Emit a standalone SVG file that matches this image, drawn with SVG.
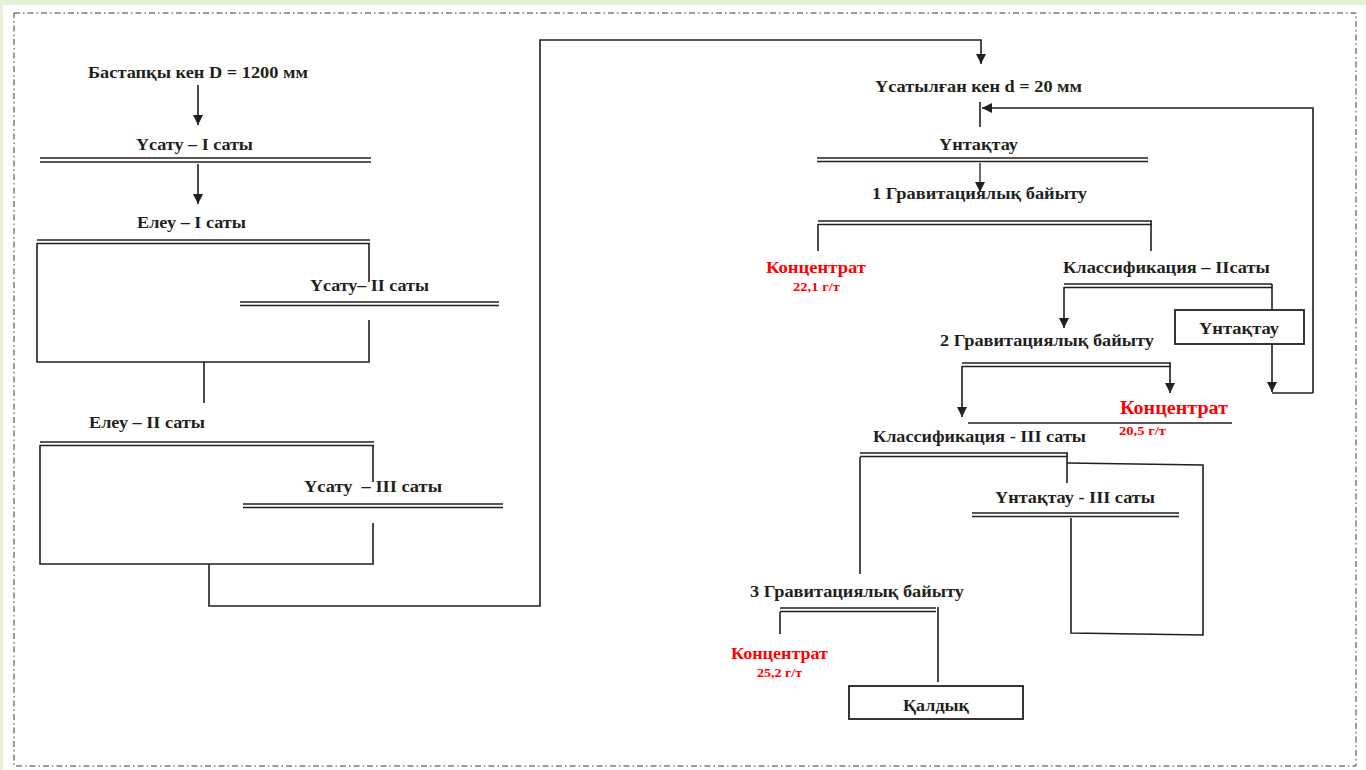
<svg xmlns="http://www.w3.org/2000/svg" width="1366" height="770" viewBox="0 0 1366 770">
<style>
.t{font-family:"Liberation Serif","Times New Roman",serif;font-weight:bold;font-size:17px;fill:#231f20}
.r{font-family:"Liberation Serif","Times New Roman",serif;font-weight:bold;font-size:17px;fill:#ff0000}
.rb{font-family:"Liberation Serif","Times New Roman",serif;font-weight:bold;font-size:19px;fill:#ff0000}
.rs{font-family:"Liberation Serif","Times New Roman",serif;font-weight:bold;font-size:13px;fill:#ff0000}
.l{stroke:#231f20;stroke-width:1.6;fill:none}
.d{stroke:#231f20;stroke-width:1.3;fill:none}
.box{stroke:#231f20;stroke-width:1.8;fill:#fff}
</style>
<defs>
<marker id="ah" viewBox="0 0 10 10" refX="10" refY="5" markerWidth="10" markerHeight="10" markerUnits="userSpaceOnUse" orient="auto">
<path d="M0,0 L10,5 L0,10 Z" fill="#231f20"/>
</marker>
</defs>
<rect width="1366" height="770" fill="#e6f2d8"/>
<rect x="3" y="5" width="1363" height="765" fill="#fff"/>
<rect x="14" y="13" width="1342" height="753" fill="none" stroke="#3a3a3a" stroke-width="1" stroke-dasharray="6,3,1.5,3"/>

<g id="connectors">
<line class="l" x1="198" y1="85" x2="198" y2="125" marker-end="url(#ah)"/>
<line class="l" x1="198" y1="164" x2="198" y2="204" marker-end="url(#ah)"/>
<polyline class="l" points="369,243 369,282"/>
<polyline class="l" points="369,320 369,362 37,362 37,243"/>
<line class="l" x1="204" y1="362" x2="204" y2="403"/>
<polyline class="l" points="373,445 373,482"/>
<polyline class="l" points="373,523 373,564 40,564 40,445"/>
<polyline class="l" points="209,564 209,606 540,606 540,40 981,40 981,64" marker-end="url(#ah)"/>
<line class="l" x1="980" y1="102" x2="980" y2="127"/>
<polyline class="l" points="1313,393 1313,108 982,108" marker-end="url(#ah)"/>
<line class="d" x1="980" y1="163" x2="980" y2="192" stroke-width="1" marker-end="url(#ah)"/>
<line class="l" x1="818" y1="224" x2="818" y2="251"/>
<line class="l" x1="1151" y1="221" x2="1151" y2="251"/>
<polyline class="l" points="1064,287 1064,328" marker-end="url(#ah)"/>
<line class="l" x1="1272" y1="284" x2="1272" y2="310"/>
<polyline class="l" points="1272,344 1272,392" marker-end="url(#ah)"/>
<line class="l" x1="1272" y1="393" x2="1313" y2="393"/>
<polyline class="l" points="962,366 962,417" marker-end="url(#ah)"/>
<polyline class="l" points="1170,363 1170,393" marker-end="url(#ah)"/>
<line class="l" x1="968" y1="423" x2="1232" y2="423"/>
<line class="l" x1="860" y1="457" x2="860" y2="574"/>
<line class="l" x1="1067" y1="453" x2="1067" y2="483"/>
<polyline class="l" points="1067,463 1203,465 1203,635 1071,633 1071,518"/>
<line class="l" x1="780" y1="612" x2="780" y2="634"/>
<line class="l" x1="938" y1="607" x2="938" y2="682"/>
</g>

<g id="n1"><text class="t" x="88" y="78" textLength="220" lengthAdjust="spacingAndGlyphs">Бастапқы кен D = 1200 мм</text></g>
<g id="n2"><text class="t" x="136" y="150" textLength="117" lengthAdjust="spacingAndGlyphs">Үсату – I саты</text>
<line class="d" x1="40" y1="158" x2="371" y2="158"/><line class="d" x1="40" y1="162" x2="371" y2="162"/></g>
<g id="n3"><text class="t" x="137" y="228" textLength="109" lengthAdjust="spacingAndGlyphs">Елеу – I саты</text>
<line class="d" x1="37" y1="240" x2="370" y2="240"/><line class="d" x1="37" y1="243.5" x2="370" y2="243.5"/></g>
<g id="n4"><text class="t" x="310" y="291" textLength="119" lengthAdjust="spacingAndGlyphs">Үсату– II саты</text>
<line class="d" x1="240" y1="302" x2="499" y2="302"/><line class="d" x1="240" y1="305.5" x2="499" y2="305.5"/></g>
<g id="n5"><text class="t" x="89" y="428" textLength="116" lengthAdjust="spacingAndGlyphs">Елеу – II саты</text>
<line class="d" x1="40" y1="442" x2="374" y2="442"/><line class="d" x1="40" y1="445.5" x2="374" y2="445.5"/></g>
<g id="n6"><text class="t" x="304" y="492" textLength="138" lengthAdjust="spacingAndGlyphs" xml:space="preserve">Үсату  – III саты</text>
<line class="d" x1="243" y1="504" x2="503" y2="504"/><line class="d" x1="243" y1="507.5" x2="503" y2="507.5"/></g>
<g id="n7"><text class="t" x="875" y="92" textLength="207" lengthAdjust="spacingAndGlyphs">Үсатылған кен d = 20 мм</text></g>
<g id="n8"><text class="t" x="939" y="150" textLength="79" lengthAdjust="spacingAndGlyphs">Үнтақтау</text>
<line class="d" x1="817" y1="158" x2="1148" y2="158"/><line class="d" x1="817" y1="161.5" x2="1148" y2="161.5"/></g>
<g id="n9"><text class="t" x="872" y="199" textLength="215" lengthAdjust="spacingAndGlyphs">1 Гравитациялық байыту</text>
<line class="d" x1="818" y1="221" x2="1152" y2="221"/><line class="d" x1="818" y1="224.5" x2="1152" y2="224.5"/></g>
<g id="n10"><text class="r" x="766" y="273" textLength="100" lengthAdjust="spacingAndGlyphs">Концентрат</text>
<text class="rs" x="793" y="291" textLength="47" lengthAdjust="spacingAndGlyphs">22,1 г/т</text></g>
<g id="n11"><text class="t" x="1063" y="273" textLength="207" lengthAdjust="spacingAndGlyphs">Классификация – IIсаты</text>
<line class="d" x1="1064" y1="284" x2="1272" y2="284"/><line class="d" x1="1064" y1="287.5" x2="1272" y2="287.5"/></g>
<g id="n12"><rect class="box" x="1175" y="310" width="129" height="34"/>
<text class="t" x="1199" y="334" textLength="80" lengthAdjust="spacingAndGlyphs">Үнтақтау</text></g>
<g id="n13"><text class="t" x="940" y="346" textLength="214" lengthAdjust="spacingAndGlyphs">2 Гравитациялық байыту</text>
<line class="d" x1="962" y1="363" x2="1171" y2="363"/><line class="d" x1="962" y1="366.5" x2="1171" y2="366.5"/></g>
<g id="n14"><text class="rb" x="1120" y="414" textLength="108" lengthAdjust="spacingAndGlyphs">Концентрат</text>
<text class="rs" x="1119" y="435" textLength="47" lengthAdjust="spacingAndGlyphs">20,5 г/т</text></g>
<g id="n15"><text class="t" x="873" y="442" textLength="213" lengthAdjust="spacingAndGlyphs">Классификация - III саты</text>
<line class="d" x1="860" y1="453" x2="1068" y2="453"/><line class="d" x1="860" y1="456.5" x2="1068" y2="456.5"/></g>
<g id="n16"><text class="t" x="995" y="503" textLength="160" lengthAdjust="spacingAndGlyphs">Үнтақтау - III саты</text>
<line class="d" x1="972" y1="513" x2="1179" y2="513"/><line class="d" x1="972" y1="516.5" x2="1179" y2="516.5"/></g>
<g id="n17"><text class="t" x="750" y="597" textLength="214" lengthAdjust="spacingAndGlyphs">3 Гравитациялық байыту</text>
<line class="d" x1="780" y1="608" x2="936" y2="608"/><line class="d" x1="780" y1="611.5" x2="936" y2="611.5"/></g>
<g id="n18"><text class="r" x="731" y="659" textLength="97" lengthAdjust="spacingAndGlyphs">Концентрат</text>
<text class="rs" x="757" y="677" textLength="45" lengthAdjust="spacingAndGlyphs">25,2 г/т</text></g>
<g id="n19"><rect class="box" x="849" y="686" width="174" height="33"/>
<text class="t" x="903" y="711" textLength="66" lengthAdjust="spacingAndGlyphs">Қалдық</text></g>
</svg>
